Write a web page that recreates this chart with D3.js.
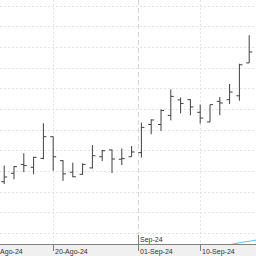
<!DOCTYPE html>
<html>
<head>
<meta charset="utf-8">
<script src="https://cdn.jsdelivr.net/npm/d3@7"></script>
<style>
  html, body { margin: 0; padding: 0; background: #fff; }
  svg { display: block; }
</style>
</head>
<body>
<svg id="chart" width="256" height="256"></svg>
<script>
"use strict";

//Trading days shown on the chart
var dates = ["2024-08-13","2024-08-14","2024-08-15","2024-08-16","2024-08-19",
  "2024-08-20","2024-08-21","2024-08-22","2024-08-23","2024-08-26","2024-08-27",
  "2024-08-28","2024-08-29","2024-08-30","2024-09-02","2024-09-03","2024-09-04",
  "2024-09-05","2024-09-06","2024-09-09","2024-09-10","2024-09-11","2024-09-12",
  "2024-09-13","2024-09-16","2024-09-17"];
//OHLC values
var openVals  = [22.48,22.89,23.32,23.18,23.61,24.66,23.50,22.94,22.84,23.15,23.69,24.02,23.57,
                 23.69,23.89,25.25,25.25,25.69,26.44,26.45,25.84,25.37,26.37,26.45,26.64,28.23];
var highVals  = [23.26,23.24,23.86,23.69,25.31,24.66,23.53,23.40,23.37,24.26,24.02,24.04,24.09,
                 24.21,25.34,25.50,25.98,26.95,26.56,26.48,26.21,26.21,26.58,27.21,28.19,29.57];
var lowVals   = [22.37,22.60,22.94,22.84,23.57,23.01,22.52,22.70,22.81,23.12,23.48,22.90,23.29,
                 23.69,23.65,24.78,24.94,25.45,25.79,25.70,25.29,25.37,25.70,26.24,26.40,28.23];
var closeVals = [22.71,23.21,23.26,23.66,24.66,23.69,22.86,22.72,23.32,23.74,23.98,23.58,23.60,
                 23.92,25.11,25.47,25.93,26.61,26.27,26.10,25.56,26.21,26.29,26.82,28.14,28.76];
//Indicator line that just shows up at the bottom right
var indicatorDates = ["2024-09-13","2024-09-16","2024-09-17","2024-09-18"];
var indicatorVals = [19.43,19.53,19.60,19.68];
//Horizontal grid values and the date ticks
var gridVals = [20,21,22,23,24,25,26,27,28,29,30,31];
var tickDates = ["2024-08-10","2024-08-20","2024-09-01","2024-09-10"];
var tickLabels = ["10-Ago-24","20-Ago-24","01-Sep-24","10-Sep-24"];
var monthDates = ["2024-09-01"];
var monthLabels = ["Sep-24"];

var parse = d3.utcParse("%Y-%m-%d");
var day0 = parse(dates[0]);

//Fractional trading-day index of a calendar date
//weekend days sit between friday and monday
function bizIndex(s){
  var d = parse(s);
  var step = d >= day0 ? 1 : -1;
  var n = 0;
  var cur = day0;
  while (+cur != +d) {
    cur = d3.utcDay.offset(cur, step);
    var wd = cur.getUTCDay();
    if (wd != 0 && wd != 6) n += step;
  }
  var w = d.getUTCDay();
  if (w == 6) return step > 0 ? n + 1/3 : n - 1 + 1/3;
  if (w == 0) return step > 0 ? n + 2/3 : n - 1 + 2/3;
  return n;
}

var svg = d3.select("#chart"),
    width = 256,
    axisY = 245;

var x = d3.scaleLinear().domain([0, 1]).range([4.2, 14.0]);
var y = d3.scaleLinear().domain([19.419, 31.274]).range([axisY, 0]);

var data = dates.map(function(d, i) {
  return {i: bizIndex(d), o: openVals[i], h: highVals[i], l: lowVals[i], c: closeVals[i]};
});

//grid
var grid = svg.append("g");
grid.selectAll("line.h")
  .data(gridVals)
  .enter().append("line")
    .attr("class", "h")
    .attr("x1", 0).attr("x2", width)
    .attr("y1", function(d) { return Math.round(y(d)) + 0.5; })
    .attr("y2", function(d) { return Math.round(y(d)) + 0.5; })
    .attr("stroke", "#e4e4e4")
    .attr("stroke-dasharray", "2,2");

grid.selectAll("line.v")
  .data(tickDates.filter(function(d) { return monthDates.indexOf(d) < 0; }))
  .enter().append("line")
    .attr("class", "v")
    .attr("x1", function(d) { return Math.round(x(bizIndex(d))) + 0.5; })
    .attr("x2", function(d) { return Math.round(x(bizIndex(d))) + 0.5; })
    .attr("y1", 0).attr("y2", axisY)
    .attr("stroke", "#e4e4e4")
    .attr("stroke-dasharray", "2,2");

grid.selectAll("line.m")
  .data(monthDates)
  .enter().append("line")
    .attr("class", "m")
    .attr("x1", function(d) { return Math.round(x(bizIndex(d))) + 0.5; })
    .attr("x2", function(d) { return Math.round(x(bizIndex(d))) + 0.5; })
    .attr("y1", 0).attr("y2", axisY)
    .attr("stroke", "#d6d6d6")
    .attr("stroke-dasharray", "5,3");

//OHLC bars
var bars = svg.append("g")
    .attr("stroke", "#404040")
    .attr("stroke-width", 1);

var bar = bars.selectAll("g")
  .data(data)
  .enter().append("g");

bar.append("line")
    .attr("x1", function(d) { return x(d.i); })
    .attr("x2", function(d) { return x(d.i); })
    .attr("y1", function(d) { return y(d.h); })
    .attr("y2", function(d) { return y(d.l); });
bar.append("line")
    .attr("x1", function(d) { return x(d.i) - 3; })
    .attr("x2", function(d) { return x(d.i); })
    .attr("y1", function(d) { return y(d.o); })
    .attr("y2", function(d) { return y(d.o); });
bar.append("line")
    .attr("x1", function(d) { return x(d.i); })
    .attr("x2", function(d) { return x(d.i) + 3; })
    .attr("y1", function(d) { return y(d.c); })
    .attr("y2", function(d) { return y(d.c); });

//indicator line
svg.append("path")
  .datum(indicatorDates.map(function(d, i) { return [bizIndex(d), indicatorVals[i]]; }))
  .attr("fill", "none")
  .attr("stroke", "#5cc4ee")
  .attr("stroke-width", 1)
  .attr("d", d3.line()
    .x(function(d) { return x(d[0]); })
    .y(function(d) { return y(d[1]); }));

//bottom strip and axis
svg.append("rect")
  .attr("x", 0).attr("y", axisY)
  .attr("width", width).attr("height", 256 - axisY)
  .attr("fill", "#f0f0f0");

svg.append("line")
  .attr("x1", 0).attr("x2", width)
  .attr("y1", axisY - 0.5).attr("y2", axisY - 0.5)
  .attr("stroke", "#808080");

var ticks = svg.append("g");
ticks.selectAll("line")
  .data(tickDates)
  .enter().append("line")
    .attr("x1", function(d) { return Math.round(x(bizIndex(d))) + 0.5; })
    .attr("x2", function(d) { return Math.round(x(bizIndex(d))) + 0.5; })
    .attr("y1", axisY).attr("y2", axisY + 6)
    .attr("stroke", "#808080");
ticks.selectAll("text")
  .data(tickDates)
  .enter().append("text")
    .attr("x", function(d) { return Math.round(x(bizIndex(d))) + 2; })
    .attr("y", 253.5)
    .attr("font-family", "Liberation Sans, Arial, sans-serif")
    .attr("font-size", "7px")
    .attr("fill", "#333")
    .text(function(d, i) { return tickLabels[i]; });

//month marker above the axis
var months = svg.append("g");
months.selectAll("line")
  .data(monthDates)
  .enter().append("line")
    .attr("x1", function(d) { return Math.round(x(bizIndex(d))) + 0.5; })
    .attr("x2", function(d) { return Math.round(x(bizIndex(d))) + 0.5; })
    .attr("y1", axisY - 10).attr("y2", axisY)
    .attr("stroke", "#808080");
months.selectAll("text")
  .data(monthDates)
  .enter().append("text")
    .attr("x", function(d) { return Math.round(x(bizIndex(d))) + 2; })
    .attr("y", 242)
    .attr("font-family", "Liberation Sans, Arial, sans-serif")
    .attr("font-size", "7px")
    .attr("fill", "#333")
    .text(function(d, i) { return monthLabels[i]; })
;
</script>
</body>
</html>
